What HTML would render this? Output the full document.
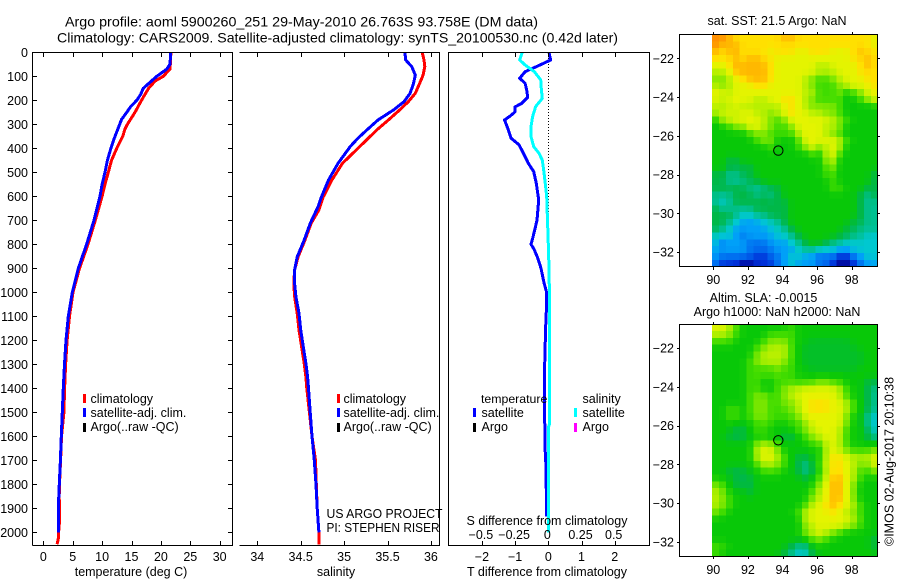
<!DOCTYPE html>
<html lang="en">
<head>
<meta charset="utf-8">
<title>Argo profile</title>
<style>
html,body{margin:0;padding:0;background:#fff;}
svg{display:block;font-family:"Liberation Sans",sans-serif;font-size:12.5px;fill:#000;}
.fr{stroke:#000;stroke-width:1;fill:none;shape-rendering:crispEdges;}
</style>
</head>
<body>
<svg id="chart" xmlns="http://www.w3.org/2000/svg" width="900" height="580" viewBox="0 0 900 580">
<rect width="900" height="580" fill="#fff"/>
<text x="65" y="26.5" font-size="14" textLength="473" lengthAdjust="spacingAndGlyphs">Argo profile: aoml 5900260_251 29-May-2010 26.763S 93.758E (DM data)</text>
<text x="57" y="42.5" font-size="14" textLength="561" lengthAdjust="spacingAndGlyphs">Climatology: CARS2009. Satellite-adjusted climatology: synTS_20100530.nc (0.42d later)</text>

<g id="series"></g>
<g id="map1"></g>
<g id="map2"></g>
<g id="axes">
<path class="fr" d="M32.5 545.5V52.5H232.5V545.5H32.5"/>
<path class="fr" d="M239.5 52.5H439.5V545.5H239.5"/>
<path class="fr" d="M448.5 52.5H649.5V545.5H448.5Z"/>
<path class="fr" d="M679.5 34.5H877.5V266.5H679.5Z"/>
<path class="fr" d="M679.5 324.5H877.5V556.5H679.5Z"/>
</g>
<g id="labels"></g>

<text x="131" y="576" text-anchor="middle">temperature (deg C)</text>
<text x="336" y="576" text-anchor="middle">salinity</text>
<text x="547" y="576" text-anchor="middle">T difference from climatology</text>
<text x="547" y="525" text-anchor="middle">S difference from climatology</text>

<g>
<rect x="83" y="394" width="3" height="9" fill="#f00" shape-rendering="crispEdges"/>
<text x="90.5" y="403">climatology</text>
<rect x="83" y="408" width="3" height="9" fill="#00f" shape-rendering="crispEdges"/>
<text x="90.5" y="417">satellite-adj. clim.</text>
<rect x="83" y="423" width="3" height="9" fill="#000" shape-rendering="crispEdges"/>
<text x="90.5" y="431">Argo(..raw -QC)</text>
</g>
<g>
<rect x="337" y="394" width="3" height="9" fill="#f00" shape-rendering="crispEdges"/>
<text x="343.5" y="403">climatology</text>
<rect x="337" y="408" width="3" height="9" fill="#00f" shape-rendering="crispEdges"/>
<text x="343.5" y="417">satellite-adj. clim.</text>
<rect x="337" y="423" width="3" height="9" fill="#000" shape-rendering="crispEdges"/>
<text x="343.5" y="431">Argo(..raw -QC)</text>
</g>
<text x="326.5" y="518" textLength="116" lengthAdjust="spacingAndGlyphs">US ARGO PROJECT</text>
<text x="326.5" y="532" textLength="113" lengthAdjust="spacingAndGlyphs">PI: STEPHEN RISER</text>

<g>
<text x="481" y="403" font-size="12.3">temperature</text>
<rect x="473" y="408" width="3" height="9" fill="#00f" shape-rendering="crispEdges"/>
<text x="481.5" y="417">satellite</text>
<rect x="473" y="423" width="3" height="9" fill="#000" shape-rendering="crispEdges"/>
<text x="481.5" y="431">Argo</text>
<text x="582.5" y="403">salinity</text>
<rect x="574" y="408" width="3" height="9" fill="#0ff" shape-rendering="crispEdges"/>
<text x="582.5" y="417">satellite</text>
<rect x="574" y="423" width="3" height="9" fill="#f0f" shape-rendering="crispEdges"/>
<text x="582.5" y="431">Argo</text>
</g>

<text x="777" y="25" text-anchor="middle">sat. SST: 21.5 Argo: NaN</text>
<text x="763.5" y="302" text-anchor="middle">Altim. SLA: -0.0015</text>
<text x="777" y="316" text-anchor="middle">Argo h1000: NaN h2000: NaN</text>
<text transform="translate(893.5,546) rotate(-90)">©IMOS 02-Aug-2017 20:10:38</text>
</svg>

<script>
// ---------- profile data ----------
const tempClimDepth = [0,30,70,100,120,150,200,250,300,320,350,400,450,500,550,600,700,800,900,1000,1100,1200,1300,1400,1500,1600,1700,1800,1850,1950,2000,2020,2050];
const tempClimValue = [21.7,21.65,21.55,20.4,19.0,17.9,16.7,15.6,14.3,13.9,13.5,12.5,11.6,11.05,10.5,10.0,8.85,7.6,6.15,5.05,4.45,4.05,3.8,3.63,3.5,3.1,2.95,2.75,2.7,2.78,2.6,2.6,2.35];
const tempSatDepth = [0,50,70,100,115,150,175,200,225,250,280,300,350,400,450,500,550,600,700,800,900,1000,1100,1200,1300,1400,1500,1600,1700,1800,1900,2000];
const tempSatValue = [21.66,21.55,21.0,19.3,18.6,17.0,16.56,15.9,14.9,14.2,13.3,13.0,12.2,11.5,10.9,10.5,10.0,9.64,8.62,7.37,5.96,4.94,4.26,3.86,3.6,3.4,3.23,3.06,2.9,2.72,2.55,2.55];

const salClimDepth = [0,32,60,95,130,171,206,240,282,324,358,393,463,532,602,657,713,782,852,907,963,1018,1088,1157,1227,1296,1352,1400,1500,1600,1700,1800,1900,2000,2050];
const salClimValue = [35.90,35.92,35.93,35.91,35.87,35.82,35.74,35.64,35.51,35.375,35.28,35.18,34.98,34.86,34.76,34.71,34.62,34.55,34.47,34.43,34.42,34.43,34.46,34.48,34.51,34.54,34.56,34.57,34.60,34.63,34.67,34.68,34.69,34.71,34.71];
const salSatDepth = [0,32,60,95,130,171,206,240,282,324,358,393,463,532,602,643,713,782,852,907,963,1018,1088,1157,1227,1296,1352,1400,1500,1600,1700,1800,1900,2000];
const salSatValue = [35.70,35.71,35.78,35.82,35.80,35.76,35.69,35.57,35.39,35.26,35.16,35.07,34.93,34.82,34.74,34.70,34.61,34.54,34.46,34.43,34.43,34.445,34.48,34.50,34.53,34.56,34.58,34.59,34.61,34.63,34.657,34.676,34.69,34.71];

const tDiffDepth = [0,32,53,81,108,129,157,188,213,227,248,266,282,317,358,386,421,463,497,546,615,650,700,770,800,820,860,900,960,1000,1050,1150,1250,1365,1643,1727,1935];
const tDiffValue = [0.02,0.07,-0.25,-0.70,-0.86,-0.70,-0.65,-0.62,-0.80,-1.0,-1.0,-1.15,-1.32,-1.22,-1.12,-0.88,-0.75,-0.60,-0.44,-0.36,-0.29,-0.31,-0.34,-0.46,-0.52,-0.43,-0.31,-0.22,-0.13,-0.05,-0.05,-0.08,-0.10,-0.12,-0.10,-0.07,-0.05];
const sDiffDepth = [0,32,53,81,115,157,192,226,268,310,351,393,421,449,504,560,601,800,900,1000,1300,1550,1560,2000];
const sDiffValue = [-0.196,-0.215,-0.175,-0.105,-0.057,-0.052,-0.045,-0.095,-0.118,-0.13,-0.13,-0.11,-0.07,-0.045,-0.032,-0.02,-0.012,0,0.005,0.008,0.01,0.008,0.002,0];

// ---------- tick data ----------
const depthTicks = [0,100,200,300,400,500,600,700,800,900,1000,1100,1200,1300,1400,1500,1600,1700,1800,1900,2000];
const tempTicks = [0,5,10,15,20,25,30];
const salTicks = [34,34.5,35,35.5,36];
const tDiffTicks = [-2,-1,0,1,2];
const sDiffTicks = [-0.5,-0.25,0,0.25,0.5];
const lonTicks = [90,92,94,96,98];
const latTicks = [-22,-24,-26,-28,-30,-32];

// ---------- map data (colour levels) ----------
const floatLon = 93.758;
const floatLat = -26.763;
const levelColors = ["#000090","#0030d8","#0070f0","#00a0f8","#00c8d0","#00c090","#00b848","#08c808","#40dc00","#80e800","#b8f000","#e4f400","#ffe000","#ffb800","#ff9000"];
const sstLevels = [
[14,14,13,12,12,12,12,12,12,12,13,13,12,12,12,12,12,12,12,12,12,12,12,11],
[14,13,13,13,12,12,12,12,12,12,12,12,12,12,12,12,12,12,12,12,12,12,12,11],
[13,12,13,13,12,12,12,12,11,12,12,12,11,11,12,12,12,11,11,11,12,13,12,12],
[12,12,12,13,12,13,13,12,12,11,11,11,11,11,11,11,11,11,11,11,12,12,13,12],
[11,11,12,13,13,13,13,13,12,11,11,11,11,11,11,10,10,11,11,11,11,12,13,12],
[10,10,11,13,13,13,13,13,12,11,11,11,11,11,11,10,10,10,11,11,11,12,12,12],
[9,9,10,11,12,13,13,13,12,11,11,11,11,10,9,8,8,9,10,11,11,11,12,12],
[10,9,10,11,11,11,12,12,11,11,11,11,11,10,9,8,8,8,9,10,11,11,11,12],
[11,11,10,11,11,11,11,11,11,11,11,11,11,10,10,8,8,8,9,7,8,9,11,11],
[11,10,11,11,11,11,10,10,11,11,12,12,11,10,9,8,8,8,8,7,7,8,9,11],
[10,10,10,11,10,10,10,10,10,10,11,12,11,10,9,9,9,9,8,7,7,7,7,7],
[10,10,11,10,11,11,10,10,9,10,11,12,11,11,10,10,9,9,8,7,7,7,7,7],
[7,10,10,11,11,11,11,10,9,8,9,11,11,11,11,11,11,10,9,8,7,7,7,7],
[7,7,8,9,9,11,11,10,9,8,8,9,11,11,11,11,10,10,9,7,7,7,7,7],
[7,7,7,7,7,8,9,9,8,8,8,8,10,11,11,11,10,9,8,7,7,7,7,7],
[7,7,7,7,7,7,8,9,9,7,7,7,8,11,11,11,11,11,10,8,7,7,7,7],
[7,7,7,7,7,7,7,7,8,7,7,7,8,9,11,9,10,11,10,7,7,7,7,7],
[7,7,7,7,7,7,7,7,7,7,7,7,7,7,8,7,10,11,8,7,7,7,7,7],
[7,7,6,6,7,7,7,7,7,7,7,7,7,7,7,7,9,10,7,7,7,7,7,7],
[7,7,6,6,6,6,7,7,7,7,7,7,7,7,7,7,8,9,7,7,7,7,7,7],
[6,6,5,5,6,6,7,7,7,7,7,7,7,7,7,7,8,8,7,7,7,7,7,6],
[6,6,5,5,5,6,6,7,7,7,7,7,7,7,7,7,7,8,7,7,7,7,7,6],
[6,6,6,6,6,5,5,5,6,6,7,7,7,7,7,7,7,8,8,7,7,7,6,6],
[5,5,5,6,6,6,5,6,5,6,7,7,7,7,7,7,7,7,7,7,7,6,5,6],
[5,4,5,6,6,6,6,6,6,6,6,7,7,7,7,7,7,7,7,7,7,6,5,5],
[6,5,5,5,5,5,6,6,6,6,6,7,7,7,7,7,7,7,7,7,7,6,5,5],
[6,6,6,5,4,4,5,5,6,6,6,7,7,7,7,7,7,7,7,7,7,6,5,5],
[6,6,5,4,3,3,3,4,4,5,6,7,7,7,7,7,7,7,7,7,6,6,5,5],
[6,5,4,3,3,3,3,3,4,4,5,6,7,7,7,7,7,7,7,6,6,5,5,5],
[4,4,4,3,2,3,3,3,3,4,4,5,6,7,7,7,7,7,6,6,5,5,4,4],
[4,2,3,3,3,2,2,2,3,3,3,4,5,6,7,7,6,5,5,4,4,4,4,4],
[3,3,3,3,3,2,2,2,2,3,3,3,4,5,5,4,4,4,3,3,4,4,4,4],
[3,2,2,2,2,2,1,1,2,2,3,4,4,3,3,2,2,2,1,1,2,3,4,4],
[2,1,1,1,0,0,1,1,1,2,3,4,3,3,3,2,2,1,0,0,1,2,3,3]
];
const slaLevels = [
[11,11,10,8,7,7,7,7,7,7,7,8,7,7,7,7,7,7,7,7,7,7,7,7],
[10,10,9,8,7,7,7,7,8,8,8,8,7,7,7,7,7,7,7,7,7,7,7,7],
[8,8,8,7,7,7,7,8,9,9,9,8,7,7,6.5,6.5,6.5,6.5,6.5,6.5,7,7,7,7],
[7,7,7,7,7,7,8,9,10,10,10,8,7,6.5,6.5,6.5,6.5,6.5,6.5,6.5,6.5,7,7,7],
[7,7,7,7,7,7,9,10,10,10,10,8,7,6.5,6.5,6.5,6.5,6.5,6.5,6.5,6.5,6.5,7,7],
[7,7,7,7,7,8,9,10,10,10,9,8,7,6.5,6.5,6.5,6.5,6.5,6.5,6.5,6.5,6.5,7,7],
[7,7,7,7,7,8,8,8,8,9,8,8,7,7,6.5,6.5,6.5,6.5,6.5,6.5,6.5,7,7,7],
[7,7,7,7,7,8,8,8,8,8,8,8,7,7,7,7,7,7,7,7,7,7,7,7],
[7,7,7,7,7,8,8,7,7,8,8,8,8,8,8,9,9,8,8,7,7,7,6,6],
[7,7,7,7,7,8,8,7,7,8,9,10,10,11,11,11,11,11,10,8,7,7,6,5],
[7,7,7,7,7,8,9,9,8,8,9,10,11,11,11,11,11,11,10,8,7,7,6,5],
[7,7,7,7,7,8,9,9,8,8,9,9,10,11,12,12,12,11,11,10,8,7,6,5],
[7,7,8,8,7,8,9,9,8,8,8,9,10,11,12,12,12,11,11,10,8,7,6,5],
[7,7,8,8,7,8,9,9,8,8,8,8,9,11,11,11,11,11,11,9,7,7,5,4],
[7,7,7,7,7,7,8,8,8,7,7,8,8,9,11,11,11,11,11,9,7,7,5,4],
[7,7,7,6,6,7,8,8,7,7,7,7,8,9,10,11,11,11,10,8,7,7,6,4],
[7,7,6,6,6,7,7,7,7,7,6,6,7,8,9,10,11,11,10,8,7,7,6,5],
[7,7,7,7,7,7,9,10,9,8,7,7,7,7,8,8,10,11,10,8,7,7,7,7],
[7,7,7,7,7,7,10,11,11,9,7,7,7,7,7,7,10,11,10,9,8,8,8,9],
[7,7,7,7,7,7,10,11,11,10,8,7,6,6,7,7,10,12,12,11,10,10,10,11],
[7,7,7,7,7,7,8,10,10,9,8,7,6,5,6,8,10,12,12,11,10,9,9,11],
[7,7,6,6,6,7,7,8,8,8,7,7,6,5,6,7,10,12,12,11,10,8,8,9],
[7,7,7,6,6,6,7,7,7,7,7,7,7,6,7,8,10,13,13,11,10,8,7,7],
[9,8,7,6,6,6,7,7,7,7,7,7,7,7,7,9,11,13,13,11,9,7,7,7],
[10,9,7,7,7,6,7,7,7,7,7,7,7,7,8,10,11,13,13,11,9,7,7,7],
[10,9,8,7,7,7,7,7,7,7,7,7,7,7,9,10,11,13,13,11,9,7,7,7],
[10,9,8,7,7,7,7,7,7,7,7,7,7,8,10,11,12,13,12,11,10,8,7,7],
[9,8,7,7,7,7,7,7,7,7,7,7,8,10,11,11,11,12,11,10,9,8,7,7],
[7,7,7,7,7,7,7,7,7,7,7,7,7,10,11,11,11,11,11,11,10,8,7,7],
[7,7,7,7,7,7,7,7,7,7,7,7,7,9,10,11,11,11,11,10,9,8,7,7],
[7,7,7,7,7,7,7,7,7,7,7,7,7,9,10,11,10,9,8,7,7,7,7,7],
[7,7,7,7,7,7,7,7,7,7,7,7,7,7,8,9,8,7,7,7,7,7,7,6],
[8,8,7,7,7,7,7,7,7,7,7,6,5,5,7,7,7,7,7,7,7,7,7,6],
[8,7,7,7,7,7,7,7,7,7,6,5,4,4,6,7,7,7,7,7,7,7,7,7]
];

// ---------- axis functions ----------
const NS = "http://www.w3.org/2000/svg";
const yDepth = d => 52.3 + 0.24 * d;
const xTemp = v => 43.3 + 5.88 * v;
const xSal = v => 257.3 + 86.8 * (v - 34);
const xTDiff = v => 548.3 + 33.2 * v;
const xSDiff = v => 548.3 + 132.8 * v;
const xLon = v => 713.3 + 17.3 * (v - 90);
const yLat1 = v => 58.3 + 19.38 * (-22 - v);
const yLat2 = v => 348 + 19.38 * (-22 - v);
const lonStart = 89.93, lonStep = 0.399, latStart = -20.77, latStep = 0.3525;
const fmtTick = v => String(v).replace("-", "\u2212");

function levelColor(level) {
  const i = Math.max(0, Math.min(levelColors.length - 2, Math.floor(level)));
  const f = Math.max(0, Math.min(1, level - i));
  const a = levelColors[i], b = levelColors[i + 1];
  const ch = p => Math.round(parseInt(a.substr(p, 2), 16) * (1 - f) + parseInt(b.substr(p, 2), 16) * f);
  return "rgb(" + ch(1) + "," + ch(3) + "," + ch(5) + ")";
}
function shadedLevel(levels, r, c, centerWeight) {
  let sum = levels[r][c] * centerWeight, w = centerWeight;
  [[-1,0],[1,0],[0,-1],[0,1]].forEach(o => {
    const row = levels[r + o[0]];
    if (row && row[c + o[1]] !== undefined) { sum += row[c + o[1]]; w += 1; }
  });
  return sum / w;
}

function node(parent, tag, attrs) {
  const el = document.createElementNS(NS, tag);
  for (const k in attrs) el.setAttribute(k, attrs[k]);
  parent.appendChild(el);
  return el;
}
const seriesG = document.getElementById("series");
const axesG = document.getElementById("axes");
const labelsG = document.getElementById("labels");

function drawLine(depths, values, xf, color) {
  const pts = depths.map((d, i) => xf(values[i]).toFixed(1) + "," + yDepth(d).toFixed(1)).join(" ");
  return node(seriesG, "polyline", {points: pts, fill: "none", stroke: color, "stroke-width": 3, "stroke-linejoin": "round", "shape-rendering": "crispEdges"});
}
function tick(x1, y1, x2, y2) {
  return node(axesG, "line", {x1: x1, y1: y1, x2: x2, y2: y2, stroke: "#000", "stroke-width": 1, "shape-rendering": "crispEdges"});
}
function label(x, y, text, anchor) {
  const el = node(labelsG, "text", {x: x, y: y, "text-anchor": anchor});
  el.textContent = text;
  return el;
}

// ---------- zero line ----------
const zeroLine = node(seriesG, "line", {x1: xTDiff(0), x2: xTDiff(0), y1: 52, y2: 345, stroke: "#000", "stroke-width": 1, "stroke-dasharray": "1 2", "shape-rendering": "crispEdges"});



// ---------- series ----------
let s;
s = drawLine(tempClimDepth, tempClimValue, xTemp, "#f00");


s = drawLine(tempSatDepth, tempSatValue, xTemp, "#00f");


s = drawLine(salClimDepth, salClimValue, xSal, "#f00");


s = drawLine(salSatDepth, salSatValue, xSal, "#00f");


s = drawLine(tDiffDepth, tDiffValue, xTDiff, "#00f");


s = drawLine(sDiffDepth, sDiffValue, xSDiff, "#0ff");



// ---------- depth ticks ----------
depthTicks.forEach(d => {
  const y = Math.round(yDepth(d)) + 0.5;
  const a = tick(33, y, 37, y);
  
  
  const b = tick(228, y, 232, y);
  
  
  const t = label(28, yDepth(d) + 4.5, String(d), "end");
  
  
});

// ---------- temperature ticks ----------
tempTicks.forEach(v => {
  const x = Math.round(xTemp(v)) + 0.5;
  const a = tick(x, 53, x, 57);
  
  
  const b = tick(x, 541, x, 545);
  
  
  const t = label(xTemp(v), 561, String(v), "middle");
  
  
});

// ---------- salinity ticks ----------
salTicks.forEach(v => {
  const x = Math.round(xSal(v)) + 0.5;
  const a = tick(x, 53, x, 57);
  
  
  const b = tick(x, 541, x, 545);
  
  
  const t = label(xSal(v), 561, String(v), "middle");
  
  
});

// ---------- difference ticks ----------
tDiffTicks.forEach(v => {
  const x = Math.round(xTDiff(v)) + 0.5;
  const a = tick(x, 53, x, 57);
  
  
  const b = tick(x, 541, x, 545);
  
  
  const t = label(xTDiff(v), 561, fmtTick(v), "middle");
  
  
});
sDiffTicks.forEach(v => {
  const t = label(xSDiff(v) - 1, 539, fmtTick(v), "middle");
  
  
});

// ---------- maps ----------
function drawMap(groupId, levels, yLat, labelY, centerWeight) {
  const g = document.getElementById(groupId);
  levels.forEach((row, r) => {
    const y0 = yLat(latStart - r * latStep), y1 = yLat(latStart - (r + 1) * latStep);
    row.forEach((lv, c) => {
      const x0 = xLon(lonStart + c * lonStep), x1 = xLon(lonStart + (c + 1) * lonStep);
      const fillColor = levelColor(shadedLevel(levels, r, c, centerWeight));
      const cell = node(g, "rect", {x: x0.toFixed(2), y: y0.toFixed(2), width: (x1 - x0 + 0.4).toFixed(2), height: (y1 - y0 + 0.4).toFixed(2), fill: fillColor, "shape-rendering": "crispEdges"});
      
      
    });
  });
  const top = Math.round(yLat(latStart));
  const bottom = Math.round(yLat(latStart - levels.length * latStep));
  lonTicks.forEach(v => {
    const x = Math.round(xLon(v)) + 0.5;
    const a = tick(x, top - 2, x, top);
    
    
    const b = tick(x, bottom, x, bottom + 3);
    
    
    const t = label(xLon(v), labelY, String(v), "middle");
    
    
  });
  latTicks.forEach(v => {
    const y = Math.round(yLat(v)) + 0.5;
    const a = tick(677, y, 679, y);
    
    
    const b = tick(878, y, 880, y);
    
    
    const t = label(674, yLat(v) + 4.5, fmtTick(v), "end");
    
    
  });
  const marker = node(axesG, "circle", {cx: xLon(floatLon), cy: yLat(floatLat), r: 4.7, fill: "none", stroke: "#000", "stroke-width": 1});
  
  
}
drawMap("map1", sstLevels, yLat1, 284, 4);
drawMap("map2", slaLevels, yLat2, 574, 3);
</script>
</body>
</html>
